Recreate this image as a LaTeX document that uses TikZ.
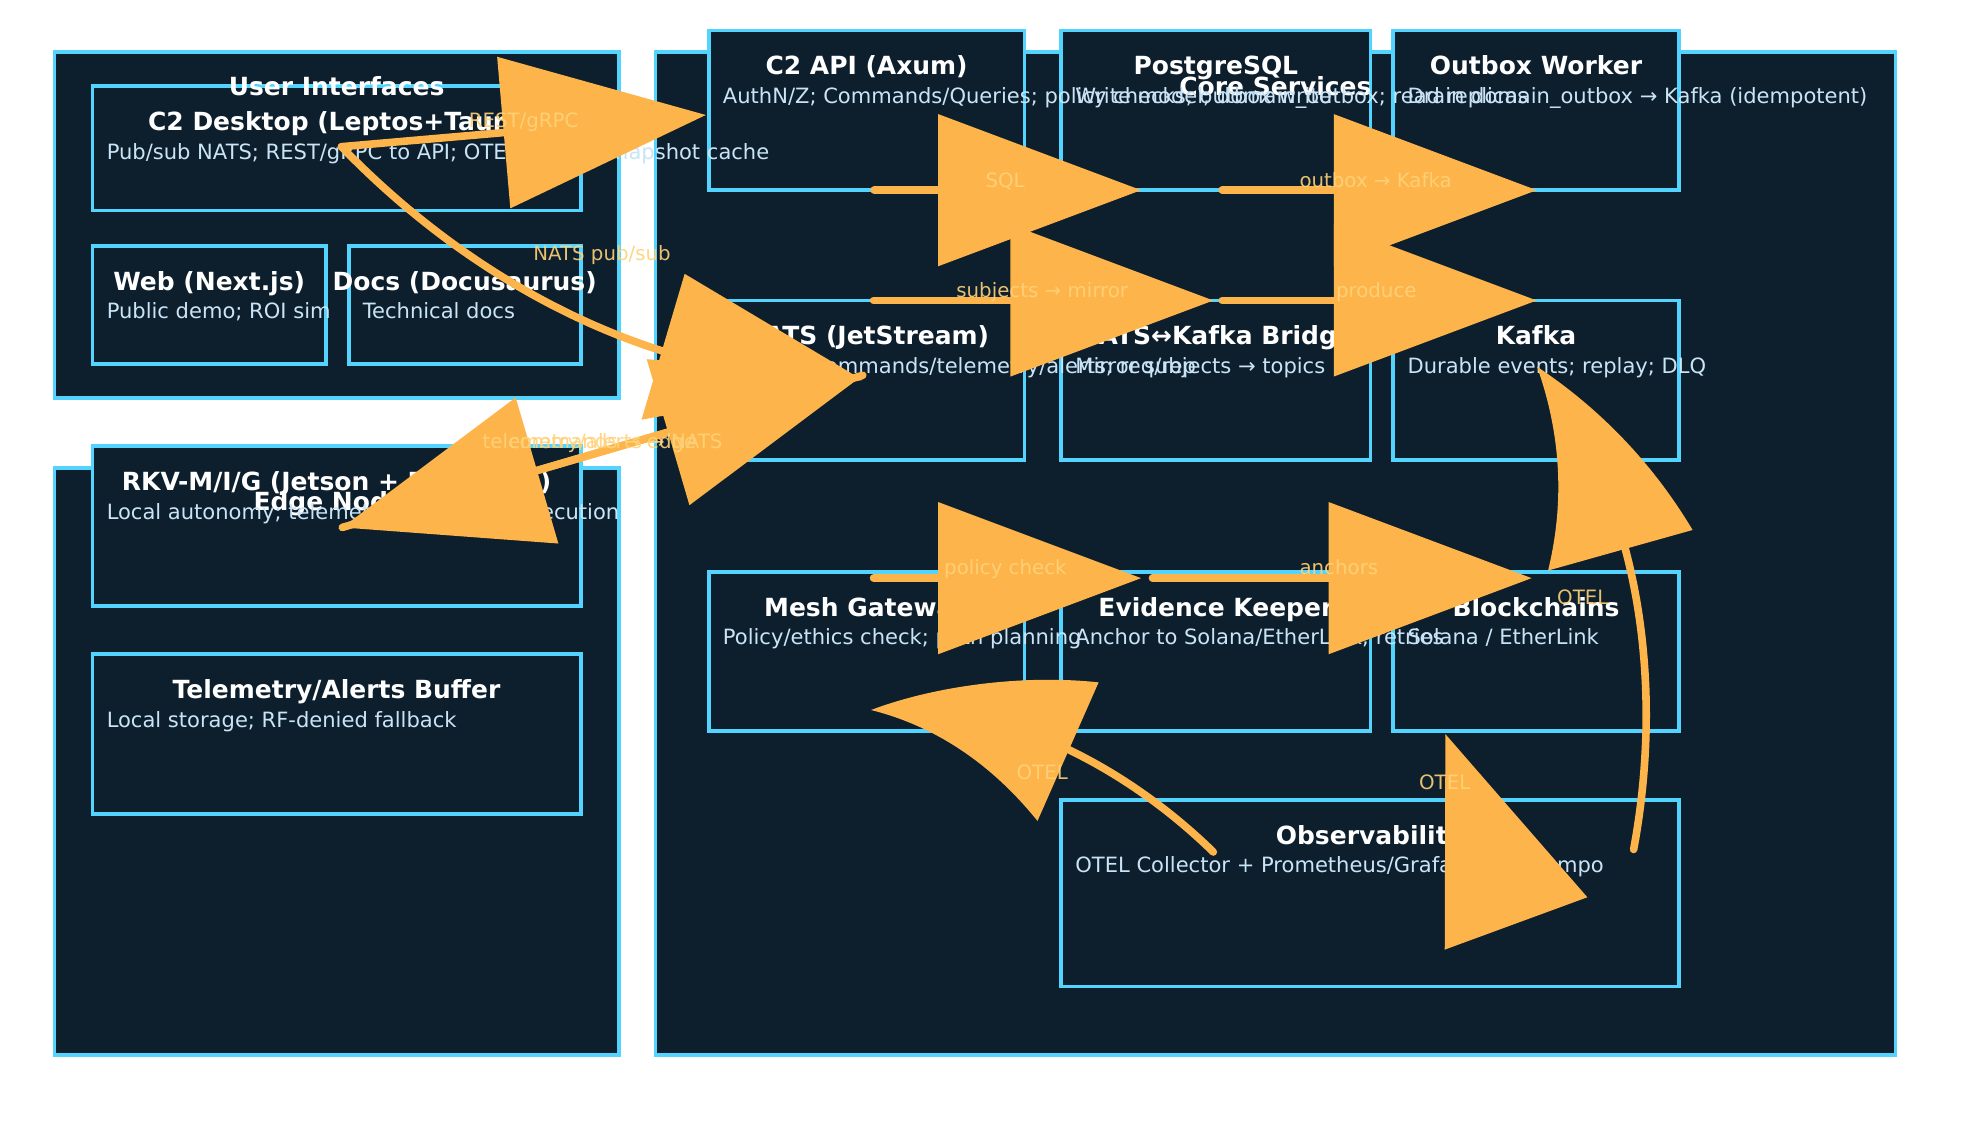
\documentclass[tikz,border=0pt]{standalone}
\usepackage{fontspec}
\setmainfont{DejaVu Sans}
\usetikzlibrary{calc}
\definecolor{navy}{HTML}{0D1F2D}
\definecolor{cyanb}{HTML}{52D4FF}
\definecolor{flowc}{HTML}{FDB44B}
\definecolor{lblc}{HTML}{FFD27A}
\definecolor{bodyc}{HTML}{C9E4F6}
\tikzset{
  boxn/.style={draw=cyanb, line width=3pt, fill=navy, inner sep=0pt, outer sep=0pt, anchor=north west},
  ttl/.style={font=\bfseries\fontsize{19.7}{23}\selectfont, text=white, anchor=base, inner sep=0pt},
  bdy/.style={font=\fontsize{16.6}{19}\selectfont, text=bodyc, anchor=base west, inner sep=0pt},
  lbl/.style={font=\fontsize{15.6}{18}\selectfont, text=lblc, text opacity=0.9, anchor=base, inner sep=0pt},
  flowline/.style={draw=flowc, line width=6pt, line cap=round},
  flowhead/.style={fill=flowc},
}
\newcommand{\mkbox}[5]{\node[boxn, minimum width=#4pt, minimum height=#5pt] (#1) at (#2,#3) {};}
\newcommand{\boxtext}[3]{%
  \node[ttl] at ($(#1.north)+(0,35)$) {#2};
  \node[bdy] at ($(#1.north west)+(11,57.5)$) {#3};}
\newcommand{\straightflow}[2]{%
  \coordinate (hb) at ($(#2)!160pt!(#1)$);
  \draw[flowline] (#1) -- (hb);
  \fill[flowhead] (#2) -- ($(hb)!60pt!90:(#2)$) -- ($(hb)!60pt!-90:(#2)$) -- cycle;}
\begin{document}
\begin{tikzpicture}[x=1pt,y=-1pt]
\useasboundingbox (0,0) rectangle (1568,902.3);
\fill[white] (0,0) rectangle (1568,902.3);
% containers
\mkbox{ui}{43}{41}{445}{273}
\mkbox{edgep}{43}{369}{445}{463}
\mkbox{core}{517}{41}{978}{791}
% inner boxes
\mkbox{desk}{73}{68}{385}{98}
\mkbox{web}{73}{194}{184}{93}
\mkbox{docs}{275}{194}{183}{93}
\mkbox{rkv}{73}{352}{385}{126}
\mkbox{buf}{73}{516}{385}{126}
\mkbox{api}{559}{24}{249}{126}
\mkbox{pg}{837}{24}{244}{126}
\mkbox{ob}{1099}{24}{225}{126}
\mkbox{nats}{559}{237}{249}{126}
\mkbox{bridge}{837}{237}{244}{126}
\mkbox{kafka}{1099}{237}{225}{126}
\mkbox{mesh}{559}{451}{249}{125.5}
\mkbox{evid}{837}{451}{244}{125.5}
\mkbox{chain}{1099}{451}{225}{125.5}
\mkbox{obs}{837}{631}{487}{147}
% container titles
\node[ttl] at ($(ui.north)+(0,34)$) {User Interfaces};
\node[ttl] at ($(edgep.north)+(0,33.5)$) {Edge Nodes};
\node[ttl] at ($(core.north)+(0,34)$) {Core Services};
% box texts
\boxtext{desk}{C2 Desktop (Leptos+Tauri)}{Pub/sub NATS; REST/gRPC to API; OTEL; offline snapshot cache}
\boxtext{web}{Web (Next.js)}{Public demo; ROI sim}
\boxtext{docs}{Docs (Docusaurus)}{Technical docs}
\boxtext{rkv}{RKV-M/I/G (Jetson + Pixhawks)}{Local autonomy; telemetry; command execution}
\boxtext{buf}{Telemetry/Alerts Buffer}{Local storage; RF-denied fallback}
\boxtext{api}{C2 API (Axum)}{AuthN/Z; Commands/Queries; policy checks; outbox write}
\boxtext{pg}{PostgreSQL}{Write model; domain\_outbox; read replicas}
\boxtext{ob}{Outbox Worker}{Drain domain\_outbox → Kafka (idempotent)}
\boxtext{nats}{NATS (JetStream)}{Pub/sub commands/telemetry/alerts; req/rep}
\boxtext{bridge}{NATS↔Kafka Bridge}{Mirror subjects → topics}
\boxtext{kafka}{Kafka}{Durable events; replay; DLQ}
\boxtext{mesh}{Mesh Gateway}{Policy/ethics check; path planning}
\boxtext{evid}{Evidence Keeper}{Anchor to Solana/EtherLink; retries}
\boxtext{chain}{Blockchains}{Solana / EtherLink}
\boxtext{obs}{Observability}{OTEL Collector + Prometheus/Grafana/Loki/Tempo}
% connector end points
\coordinate (deskP) at ($(desk.center)+(3.8,-1.3)$);
\coordinate (apiW) at ($(api.west)+(-2.3,3.7)$);
\coordinate (natsP) at ($(nats.center)+(-3.2,-0.3)$);
\coordinate (natsQ) at ($(nats.center)+(-3,-4)$);
\coordinate (rkvP) at ($(rkv.center)+(4.5,1)$);
\coordinate (sqlS) at ($(api.south)+(6,0)$);
\coordinate (sqlT) at ($(pg.south)+(-59,0)$);
\coordinate (pgS) at ($(pg.south)+(5,0)$);
\coordinate (obS) at ($(ob.south)+(0.5,0)$);
\coordinate (natsN) at ($(nats.north)+(5.5,0)$);
\coordinate (brN) at ($(bridge.north)+(-2,0)$);
\coordinate (brN2) at ($(bridge.north)+(5,0)$);
\coordinate (kafkaN) at ($(kafka.north)+(0.5,0)$);
\coordinate (meshN) at ($(mesh.north)+(5.5,5)$);
\coordinate (evN) at ($(evid.north)+(-59,5)$);
\coordinate (evN2) at ($(evid.north)+(-50,5)$);
\coordinate (chN) at ($(chain.north)+(-3.5,5)$);
\coordinate (obsA) at ($(obs.north west)+(120,41)$);
\coordinate (meshS) at ($(mesh.south)+(3.5,-16.5)$);
\coordinate (obsB) at ($(obs.north east)+(-35.5,39)$);
\coordinate (kafkaC) at ($(kafka.center)+(0.8,-10.8)$);
% straight connectors
\straightflow{deskP}{apiW}
\straightflow{rkvP}{natsQ}
\straightflow{natsQ}{rkvP}
\straightflow{sqlS}{sqlT}
\straightflow{pgS}{obS}
\straightflow{natsN}{brN}
\straightflow{brN2}{kafkaN}
\straightflow{meshN}{evN}
\straightflow{evN2}{chN}
% curved connectors
\draw[flowline, shorten >=40pt] (deskP) .. controls (381.8,231.8) and (518.8,293.2) .. (natsP);
\fill[flowhead] (540,216) -- (natsP) -- (506,331) -- cycle;
\draw[flowline, shorten >=40pt] (obsA) .. controls (881.9,598.7) and (791.9,561.3) .. (meshS);
\fill[flowhead] (meshS) .. controls (740,540) and (810,532) .. (866.5,538.2) -- (818.3,647.5) .. controls (780,600) and (735,572) .. (meshS) -- cycle;
\draw[flowline, shorten >=40pt] (obsB) .. controls (1313.9,532.9) and (1288.5,406) .. (kafkaC);
\fill[flowhead] (kafkaC) .. controls (1262.9,322.9) and (1303.8,365.9) .. (1335,418) -- (1221,450) .. controls (1234.1,396.4) and (1231.3,342.8) .. (kafkaC) -- cycle;
\fill[flowhead] ($(chain.south)+(-71.5,2.5)$) -- ($(chain.south)+(40.5,131.2)$) -- ($(chain.south)+(-72,172.5)$) -- cycle;
% labels
\node[lbl] at ($(deskP)!0.5!(apiW)+(0,-2.5)$) {REST/gRPC};
\node[lbl] at ($(deskP)!0.5!(natsP)+(0,-2.5)$) {NATS pub/sub};
\node[lbl] at ($(rkvP)!0.5!(natsQ)+(0,-2.5)$) {commands → edge};
\node[lbl] at ($(rkvP)!0.5!(natsQ)+(0,-2.5)$) {telemetry/alerts → NATS};
\node[lbl] at ($(sqlS)!0.5!(sqlT)+(-2,-2.5)$) {SQL};
\node[lbl] at ($(pgS)!0.5!(obS)+(-3,-2.5)$) {outbox → Kafka};
\node[lbl] at ($(natsN)!0.5!(brN)+(-1,-2.5)$) {subjects → mirror};
\node[lbl] at ($(brN2)!0.5!(kafkaN)+(-2.5,-2.5)$) {produce};
\node[lbl] at ($(meshN)!0.5!(evN)+(-1.5,-2.5)$) {policy check};
\node[lbl] at ($(evN2)!0.5!(chN)+(-2.5,-2.5)$) {anchors};
\node[lbl] at ($(obsA)!0.5!(meshS)+(0,-1)$) {OTEL};
\node[lbl] at ($(obsB)!0.5!(kafkaC)+(-2,-2.5)$) {OTEL};
\node[lbl] at ($(chain.south)+(-72,46)$) {OTEL};
\end{tikzpicture}
\end{document}
